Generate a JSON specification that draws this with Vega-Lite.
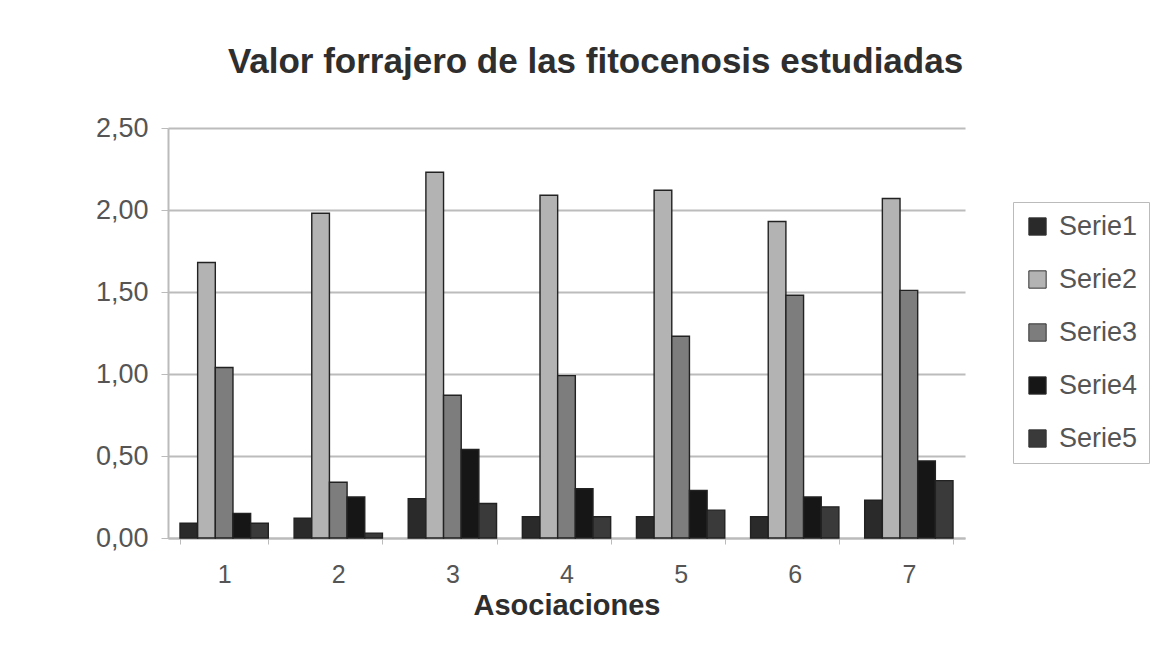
{
  "$schema": "https://vega.github.io/schema/vega-lite/v6.json",
  "autosize": "none",
  "width": 797,
  "height": 410,
  "padding": {"left": 168, "top": 128, "right": 208, "bottom": 108},
  "background": "white",
  "title": {
    "text": "Valor forrajero de las fitocenosis estudiadas",
    "font": "Liberation Sans",
    "fontSize": 35,
    "fontWeight": "bold",
    "color": "#2e2e2e",
    "anchor": "middle",
    "dx": 29,
    "offset": 34
  },
  "data": {
    "values": [
      {"asoc": "1", "serie": "Serie1", "valor": 0.09},
      {"asoc": "1", "serie": "Serie2", "valor": 1.68},
      {"asoc": "1", "serie": "Serie3", "valor": 1.04},
      {"asoc": "1", "serie": "Serie4", "valor": 0.15},
      {"asoc": "1", "serie": "Serie5", "valor": 0.09},
      {"asoc": "2", "serie": "Serie1", "valor": 0.12},
      {"asoc": "2", "serie": "Serie2", "valor": 1.98},
      {"asoc": "2", "serie": "Serie3", "valor": 0.34},
      {"asoc": "2", "serie": "Serie4", "valor": 0.25},
      {"asoc": "2", "serie": "Serie5", "valor": 0.03},
      {"asoc": "3", "serie": "Serie1", "valor": 0.24},
      {"asoc": "3", "serie": "Serie2", "valor": 2.23},
      {"asoc": "3", "serie": "Serie3", "valor": 0.87},
      {"asoc": "3", "serie": "Serie4", "valor": 0.54},
      {"asoc": "3", "serie": "Serie5", "valor": 0.21},
      {"asoc": "4", "serie": "Serie1", "valor": 0.13},
      {"asoc": "4", "serie": "Serie2", "valor": 2.09},
      {"asoc": "4", "serie": "Serie3", "valor": 0.99},
      {"asoc": "4", "serie": "Serie4", "valor": 0.30},
      {"asoc": "4", "serie": "Serie5", "valor": 0.13},
      {"asoc": "5", "serie": "Serie1", "valor": 0.13},
      {"asoc": "5", "serie": "Serie2", "valor": 2.12},
      {"asoc": "5", "serie": "Serie3", "valor": 1.23},
      {"asoc": "5", "serie": "Serie4", "valor": 0.29},
      {"asoc": "5", "serie": "Serie5", "valor": 0.17},
      {"asoc": "6", "serie": "Serie1", "valor": 0.13},
      {"asoc": "6", "serie": "Serie2", "valor": 1.93},
      {"asoc": "6", "serie": "Serie3", "valor": 1.48},
      {"asoc": "6", "serie": "Serie4", "valor": 0.25},
      {"asoc": "6", "serie": "Serie5", "valor": 0.19},
      {"asoc": "7", "serie": "Serie1", "valor": 0.23},
      {"asoc": "7", "serie": "Serie2", "valor": 2.07},
      {"asoc": "7", "serie": "Serie3", "valor": 1.51},
      {"asoc": "7", "serie": "Serie4", "valor": 0.47},
      {"asoc": "7", "serie": "Serie5", "valor": 0.35}
    ]
  },
  "mark": {"type": "bar", "stroke": "#222222", "strokeWidth": 1.4},
  "encoding": {
    "x": {
      "field": "asoc",
      "type": "ordinal",
      "scale": {"paddingInner": 0.226, "paddingOuter": 0.105},
      "axis": {
        "title": "Asociaciones",
        "titleFont": "Liberation Sans",
        "titleFontSize": 29,
        "titleFontWeight": "bold",
        "titleColor": "#2e2e2e",
        "titlePadding": 4,
        "labelAngle": 0,
        "labelFont": "Liberation Sans",
        "labelFontSize": 25,
        "labelColor": "#555555",
        "labelPadding": 18,
        "tickBand": "extent",
        "tickSize": 6,
        "tickColor": "#bbbbbb",
        "domainColor": "#bbbbbb",
        "domainWidth": 2,
        "grid": false
      }
    },
    "xOffset": {"field": "serie", "type": "nominal", "scale": {"paddingInner": 0, "paddingOuter": 0}},
    "y": {
      "field": "valor",
      "type": "quantitative",
      "scale": {"domain": [0, 2.5], "nice": false},
      "axis": {
        "title": null,
        "values": [0, 0.5, 1, 1.5, 2, 2.5],
        "labelExpr": "replace(format(datum.value, '.2f'), '.', ',')",
        "labelFont": "Liberation Sans",
        "labelFontSize": 27,
        "labelColor": "#555555",
        "labelPadding": 13,
        "tickSize": 7,
        "tickColor": "#bbbbbb",
        "domainColor": "#bbbbbb",
        "domainWidth": 2,
        "gridColor": "#bcbcbc",
        "gridWidth": 2
      }
    },
    "color": {
      "field": "serie",
      "type": "nominal",
      "scale": {
        "domain": ["Serie1", "Serie2", "Serie3", "Serie4", "Serie5"],
        "range": ["#2a2a2a", "#b3b3b3", "#7d7d7d", "#161616", "#3a3a3a"]
      },
      "legend": {
        "title": null,
        "orient": "none",
        "legendX": 845,
        "legendY": 74,
        "strokeColor": "#bbbbbb",
        "fillColor": "white",
        "padding": 11,
        "symbolType": "square",
        "symbolSize": 300,
        "symbolStrokeColor": "#333333",
        "symbolStrokeWidth": 1,
        "labelFont": "Liberation Sans",
        "labelFontSize": 27,
        "labelColor": "#555555",
        "labelOffset": 8,
        "rowPadding": 25
      }
    }
  },
  "config": {"view": {"stroke": null}}
}
